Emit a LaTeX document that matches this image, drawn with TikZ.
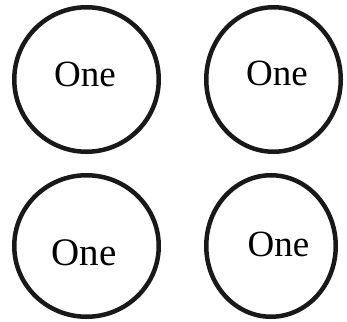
\documentclass[tikz,border=0pt]{standalone}
\usepackage{fontspec}
\setmainfont{Liberation Serif}
\usetikzlibrary{shapes.geometric}

\tikzset{
    ring/.style={draw=black!90, line width=4.5pt, ellipse, inner sep=0pt},
    word/.style={anchor=base, font=\fontsize{37}{40}\selectfont, inner sep=0pt}
}

\begin{document}
\begin{tikzpicture}[x=1pt, y=-1pt]
        \useasboundingbox (0,0) rectangle (347,321);
        % top left
        \node[ring, minimum width=144.5pt, minimum height=144.5pt] (ringA) at (86.5,79.5) {};
        \node[word] (wordA) at (85,86) {One};

        % top right
        \node[ring, minimum width=134.5pt, minimum height=144.5pt] (ringB) at (273.5,79.5) {};
        \node[word] (wordB) at (277,85) {One};

        % bottom left
        \node[ring, minimum width=144.5pt, minimum height=141.5pt] (ringC) at (86.5,246) {};
        \node[word, font=\fontsize{39}{42}\selectfont] (wordC) at (84,265) {One};

        % bottom right
        \node[ring, minimum width=129.5pt, minimum height=141.5pt] (ringD) at (271,246) {};
        \node[word] (wordD) at (278.5,256) {One};
    \end{tikzpicture}
\end{document}
